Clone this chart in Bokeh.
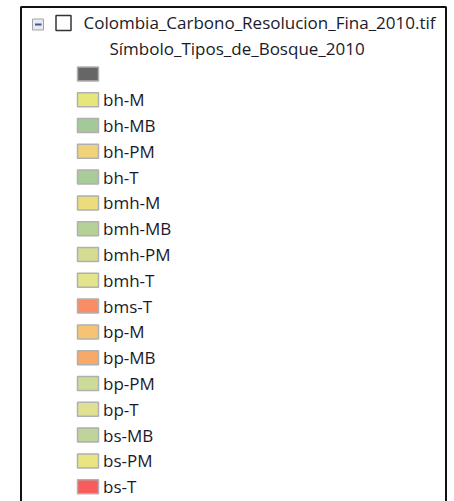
from bokeh.plotting import figure
from bokeh.models import Range1d, ColumnDataSource
from bokeh.core.properties import value
from bokeh.embed import file_html
from bokeh.resources import INLINE

layer_name = "Colombia_Carbono_Resolucion_Fina_2010.tif"
symbol_name = "Símbolo_Tipos_de_Bosque_2010"

categories = ["", "bh-M", "bh-MB", "bh-PM", "bh-T", "bmh-M", "bmh-MB", "bmh-PM",
              "bmh-T", "bms-T", "bp-M", "bp-MB", "bp-PM", "bp-T", "bs-MB", "bs-PM", "bs-T"]
colors = ["#666666", "#e6e67a", "#a3c99a", "#f0d278", "#a8cc98", "#ecdc7a", "#b5d197",
          "#d4dc94", "#e4e48c", "#f98d64", "#f5c373", "#f7a969", "#cddb98", "#dfe092",
          "#bfd49a", "#e9e582", "#f95c5c"]

FONT = value("Open Sans")
FS = "17px"
row0, step = 73.4, 25.8
rows = [row0 + i * step for i in range(len(categories))]

p = figure(width=454, height=501, output_backend="svg", toolbar_location=None,
           x_range=Range1d(0, 454), y_range=Range1d(501, 0),
           min_border=0, outline_line_color=None)
p.axis.visible = False
p.grid.visible = False
p.background_fill_color = "white"

# frame
p.line(x=[20.5, 20.5, 445.5, 445.5], y=[520, 6.5, 6.5, 520], line_color="#111111", line_width=2)

# collapse icon
p.rect(x=[37.5], y=[24], width=11, height=11, fill_color="#e8eaf0", line_color="#a0a4aa", line_width=1)
p.line(x=[34.5, 41], y=[24, 24], line_color="#3c5a9a", line_width=2)
# checkbox
p.rect(x=[63], y=[22.5], width=15, height=15, fill_color="white", line_color="#333333", line_width=1.5)

p.text(x=[83], y=[22], text=[layer_name], text_font=FONT, text_font_size=FS,
       text_color="#1a1a2a", text_baseline="middle")
p.text(x=[109], y=[48], text=[symbol_name], text_font=FONT, text_font_size=FS,
       text_color="#1a1a2a", text_baseline="middle")

src = ColumnDataSource(dict(y=rows, c=colors, t=categories))
p.rect(x=87.5, y="y", width=21, height=14, fill_color="c", line_color="#b0b0b0",
       line_width=1.5, source=src)
p.text(x=102.5, y="y", text="t", text_font=FONT, text_font_size=FS,
       text_color="#1a1a2a", text_baseline="middle", source=src)

open("out.html", "w").write(file_html(p, INLINE))
